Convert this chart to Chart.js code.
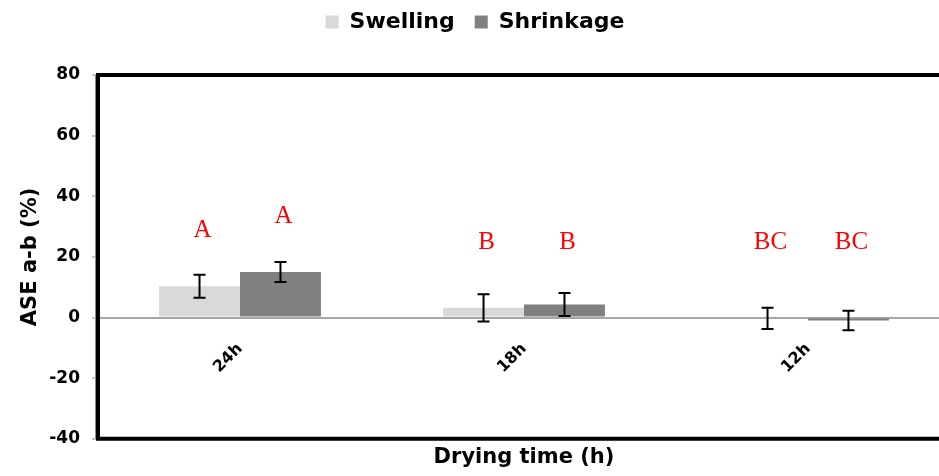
<!DOCTYPE html>
<html>
<head>
<meta charset="utf-8">
<script src="https://cdn.jsdelivr.net/npm/chart.js@4.4.1/dist/chart.umd.min.js"></script>
<style>
html,body{margin:0;padding:0;background:#fff;overflow:hidden;}
#wrap{width:962px;height:476px;position:relative;}
</style>
</head>
<body>
<div id="wrap"><canvas id="c"></canvas></div>
<script>
const categories = ['24h', '18h', '12h'];
const swelling = [10.3, 3.2, -0.3];
const swellingErr = [3.8, 4.5, 3.5];
const shrinkage = [15.0, 4.3, -1.0];
const shrinkageErr = [3.3, 3.8, 3.2];
const swellingLetters = ['A', 'B', 'BC'];
const swellingLetterY = [28.8, 24.9, 24.8];
const shrinkageLetters = ['A', 'B', 'BC'];
const shrinkageLetterY = [33.4, 24.9, 24.8];
const yTicks = [-40, -20, 0, 20, 40, 60, 80];

const errors = [swellingErr, shrinkageErr];
const letters = [swellingLetters, shrinkageLetters];
const letterY = [swellingLetterY, shrinkageLetterY];
const FONT = '"DejaVu Sans", "Liberation Sans", Arial, sans-serif';

const extras = {
  id: 'extras',
  afterDatasetsDraw(chart) {
    const ctx = chart.ctx;
    const ys = chart.scales.y;
    ctx.save();
    chart.data.datasets.forEach((ds, i) => {
      const meta = chart.getDatasetMeta(i);
      meta.data.forEach((bar, j) => {
        const v = ds.data[j], e = errors[i][j];
        const x = bar.x;
        const yHi = ys.getPixelForValue(v + e);
        const yLo = ys.getPixelForValue(v - e);
        ctx.strokeStyle = '#000';
        ctx.lineWidth = 2;
        ctx.beginPath();
        ctx.moveTo(x, yHi); ctx.lineTo(x, yLo);
        ctx.moveTo(x - 6, yHi); ctx.lineTo(x + 6, yHi);
        ctx.moveTo(x - 6, yLo); ctx.lineTo(x + 6, yLo);
        ctx.stroke();
        ctx.fillStyle = '#ff0000';
        ctx.font = '25px "Liberation Serif", "Times New Roman", serif';
        ctx.textAlign = 'center';
        ctx.textBaseline = 'middle';
        ctx.fillText(letters[i][j], x + 3, ys.getPixelForValue(letterY[i][j]));
      });
    });
    ctx.restore();
  },
  afterDraw(chart) {
    const ctx = chart.ctx;
    const a = chart.chartArea;
    ctx.save();
    ctx.strokeStyle = '#000';
    ctx.lineWidth = 4;
    ctx.beginPath();
    ctx.moveTo(a.left, a.top); ctx.lineTo(a.right, a.top);
    ctx.moveTo(a.left, a.top - 2); ctx.lineTo(a.left, a.bottom + 2);
    ctx.moveTo(a.left, a.bottom); ctx.lineTo(a.right, a.bottom);
    ctx.stroke();
    ctx.strokeStyle = '#888';
    ctx.lineWidth = 1;
    ctx.beginPath();
    ctx.moveTo(a.left - 2.5, a.top); ctx.lineTo(a.left - 2.5, a.bottom);
    ctx.stroke();
    ctx.restore();
  }
};

new Chart(document.getElementById('c'), {
  type: 'bar',
  data: {
    labels: categories,
    datasets: [
      { label: 'Swelling', data: swelling, backgroundColor: '#d9d9d9', borderWidth: 0 },
      { label: 'Shrinkage', data: shrinkage, backgroundColor: '#808080', borderWidth: 0 }
    ]
  },
  options: {
    responsive: true,
    maintainAspectRatio: false,
    animation: false,
    layout: { padding: { left: 0, right: 12, top: -9, bottom: 0 } },
    datasets: { bar: { barPercentage: 1.0, categoryPercentage: 0.57 } },
    plugins: {
      legend: {
        position: 'top',
        labels: {
          boxWidth: 13, boxHeight: 13, padding: 20, color: '#000',
          font: { family: FONT, size: 22, weight: 'bold' }
        }
      },
      title: {
        display: true, position: 'bottom', text: 'Drying time (h)', color: '#000',
        fullSize: false,
        font: { family: FONT, size: 21, weight: 'bold' },
        padding: { top: 6, bottom: 6 }
      },
      tooltip: { enabled: false }
    },
    scales: {
      x: {
        position: { y: 0 },
        grid: { display: false, drawTicks: false },
        border: { display: false },
        ticks: {
          color: '#000', minRotation: 45, maxRotation: 45, padding: 22,
          font: { family: FONT, size: 16, weight: 'bold' }
        }
      },
      xTop: {
        type: 'category',
        position: 'top',
        grid: { display: false, drawTicks: false },
        border: { display: false },
        ticks: { display: false },
        afterFit(scale) { scale.height = 32; }
      },
      y: {
        min: -40, max: 80,
        afterBuildTicks(scale) { scale.ticks = yTicks.map(v => ({ value: v })); },
        afterFit(scale) { scale.width = 98; },
        grid: {
          color: c => (c.tick && c.tick.value === 0) ? '#a6a6a6' : 'rgba(0,0,0,0)',
          lineWidth: 2,
          tickColor: '#888', tickLength: 6, tickWidth: 1
        },
        border: { display: false },
        ticks: {
          color: '#000', padding: 12,
          font: { family: FONT, size: 17, weight: 'bold' }
        },
        title: {
          display: true, text: 'ASE a-b (%)', color: '#000',
          font: { family: FONT, size: 21, weight: 'bold' },
          padding: { top: 18, bottom: 0 }
        }
      }
    }
  },
  plugins: [extras]
});
</script>
</body>
</html>
